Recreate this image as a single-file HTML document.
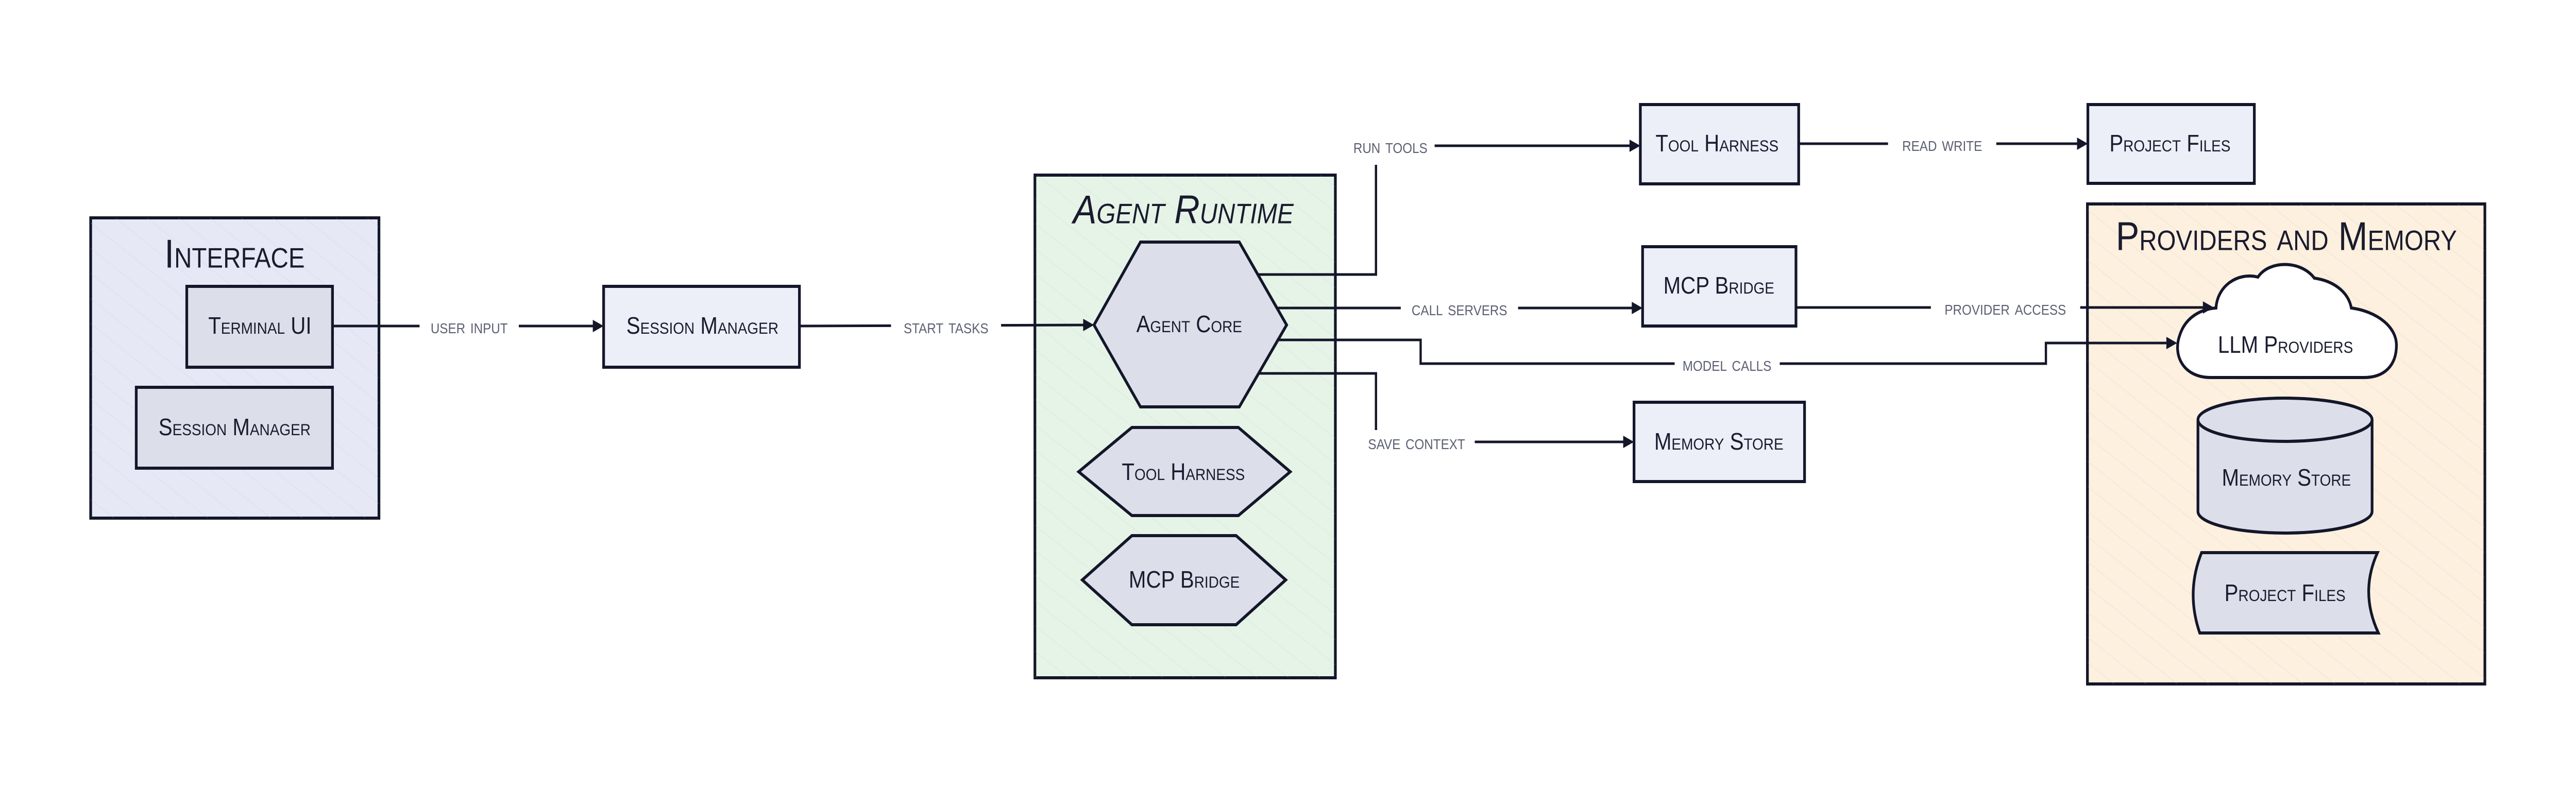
<!DOCTYPE html>
<html><head><meta charset="utf-8"><style>
html,body{margin:0;padding:0;background:#fff;width:100%;height:100%;overflow:hidden;}
svg{display:block;width:100vw;height:100vh;}
text{font-family:"Liberation Sans",sans-serif;font-variant:small-caps;}
.t{fill:#1a1b2e;font-size:46px;text-anchor:middle;dominant-baseline:central;}
.l{fill:#5d6072;font-size:40px;text-anchor:middle;dominant-baseline:central;}
.h{fill:#1a1b2e;font-size:78px;text-anchor:middle;dominant-baseline:central;}
.s{stroke:#14162a;stroke-width:6;}
.c{stroke:#14162a;stroke-width:5;fill:none;}
</style></head><body>
<svg viewBox="0 0 5710 1530" preserveAspectRatio="none" xmlns="http://www.w3.org/2000/svg">
<defs>
<pattern id="hx" width="40" height="40" patternUnits="userSpaceOnUse" patternTransform="rotate(-55)">
<line x1="0" y1="0" x2="0" y2="40" stroke="#b8bccb" stroke-width="1.5" opacity="0.35"/>
</pattern>
</defs>

<rect x="201" y="423" width="639" height="583" fill="#e6e9f5" class="s"/>
<rect x="201" y="423" width="639" height="583" fill="url(#hx)"/>
<text class="h" x="520" y="493">Interface</text>

<rect x="2294" y="340" width="666" height="976" fill="#e6f4e7" class="s"/>
<rect x="2294" y="340" width="666" height="976" fill="url(#hx)"/>
<text class="h" x="2623" y="407" font-style="italic">Agent Runtime</text>

<rect x="4627" y="396" width="881" height="932" fill="#fdf0de" class="s"/>
<rect x="4627" y="396" width="881" height="932" fill="url(#hx)"/>
<text class="h" x="5068" y="459">Providers and Memory</text>

<rect x="414" y="556" width="323" height="157" fill="#dcdfea" class="s"/>
<text class="t" x="576" y="633">Terminal UI</text>
<rect x="302" y="752" width="435" height="157" fill="#dcdfea" class="s"/>
<text class="t" x="520" y="830">Session Manager</text>
<rect x="1338" y="556" width="434" height="157" fill="#eceef8" class="s"/>
<text class="t" x="1557" y="633">Session Manager</text>

<rect x="3636" y="203" width="351" height="154" fill="#eceef8" class="s"/>
<text class="t" x="3806" y="279">Tool Harness</text>
<rect x="3641" y="479" width="340" height="154" fill="#eceef8" class="s"/>
<text class="t" x="3810" y="555">MCP Bridge</text>
<rect x="3622" y="781" width="378" height="154" fill="#eceef8" class="s"/>
<text class="t" x="3810" y="858">Memory Store</text>
<rect x="4628" y="203" width="369" height="153" fill="#eceef8" class="s"/>
<text class="t" x="4810" y="279">Project Files</text>

<polygon points="2425,631 2528,470 2747,470 2852,631 2747,790 2528,790" fill="#dcdfea" class="s"/>
<text class="t" x="2636" y="630">Agent Core</text>
<polygon points="2391,916 2509,830 2745,830 2860,916 2745,1001 2509,1001" fill="#dcdfea" class="s"/>
<text class="t" x="2623" y="917">Tool Harness</text>
<polygon points="2399,1126 2509,1040 2740,1040 2850,1126 2740,1213 2509,1213" fill="#dcdfea" class="s"/>
<text class="t" x="2625" y="1126">MCP Bridge</text>

<path d="M4900,733 C4840,733 4815,690 4832,650 C4845,615 4880,600 4912,598 C4915,555 4960,528 5005,538 C5030,505 5100,505 5130,540 C5170,545 5205,565 5212,598 C5270,605 5312,635 5312,670 C5312,710 5285,733 5240,733 Z" fill="#ffffff" class="s"/>
<text class="t" x="5066" y="670">LLM Providers</text>

<path d="M4872,815 L4872,993 A193,42 0 0 0 5258,993 L5258,815" fill="#dcdfea" class="s"/>
<ellipse cx="5065" cy="815" rx="193" ry="42" fill="#dcdfea" class="s"/>
<text class="t" x="5068" y="928">Memory Store</text>

<path d="M4880,1073 L5270,1073 Q5230,1150 5272,1229 L4876,1229 Q4845,1150 4880,1073 Z" fill="#dcdfea" class="s"/>
<text class="t" x="5065" y="1152">Project Files</text>

<g class="c">
<path d="M737,633 L1325,633"/>
<path d="M1772,633 L2412,631"/>
<path d="M2786,533 L3050,533 L3050,283 L3622,283"/>
<path d="M2830,598 L3628,598"/>
<path d="M2830,660 L3149,660 L3149,706 L4535,706 L4535,666 L4812,666"/>
<path d="M2792,725 L3050,725 L3050,858 L3608,858"/>
<path d="M3987,279 L4614,279"/>
<path d="M3981,597 L4893,597"/>
</g>
<g fill="#14162a">
<polygon points="1338,633 1314,621 1314,645"/>
<polygon points="2425,631 2401,619 2401,643"/>
<polygon points="3636,283 3612,271 3612,295"/>
<polygon points="3641,598 3617,586 3617,610"/>
<polygon points="4826,666 4802,654 4802,678"/>
<polygon points="3622,858 3598,846 3598,870"/>
<polygon points="4628,279 4604,267 4604,291"/>
<polygon points="4907,597 4883,585 4883,609"/>
</g>

<g fill="#ffffff">
<rect x="930" y="610" width="220" height="46"/>
<rect x="1975" y="610" width="244" height="46"/>
<rect x="2985" y="260" width="195" height="60"/>
<rect x="3105" y="575" width="260" height="46"/>
<rect x="3712" y="683" width="233" height="46"/>
<rect x="3010" y="835" width="259" height="46"/>
<rect x="4185" y="256" width="240" height="46"/>
<rect x="4280" y="574" width="331" height="46"/>
</g>
<text class="l" x="1040" y="633">user input</text>
<text class="l" x="2097" y="633">start tasks</text>
<text class="l" x="3082" y="283">run tools</text>
<text class="l" x="3235" y="598">call servers</text>
<text class="l" x="3828" y="706">model calls</text>
<text class="l" x="3140" y="858">save context</text>
<text class="l" x="4305" y="279">read write</text>
<text class="l" x="4445" y="597">provider access</text>
</svg>
</body></html>
